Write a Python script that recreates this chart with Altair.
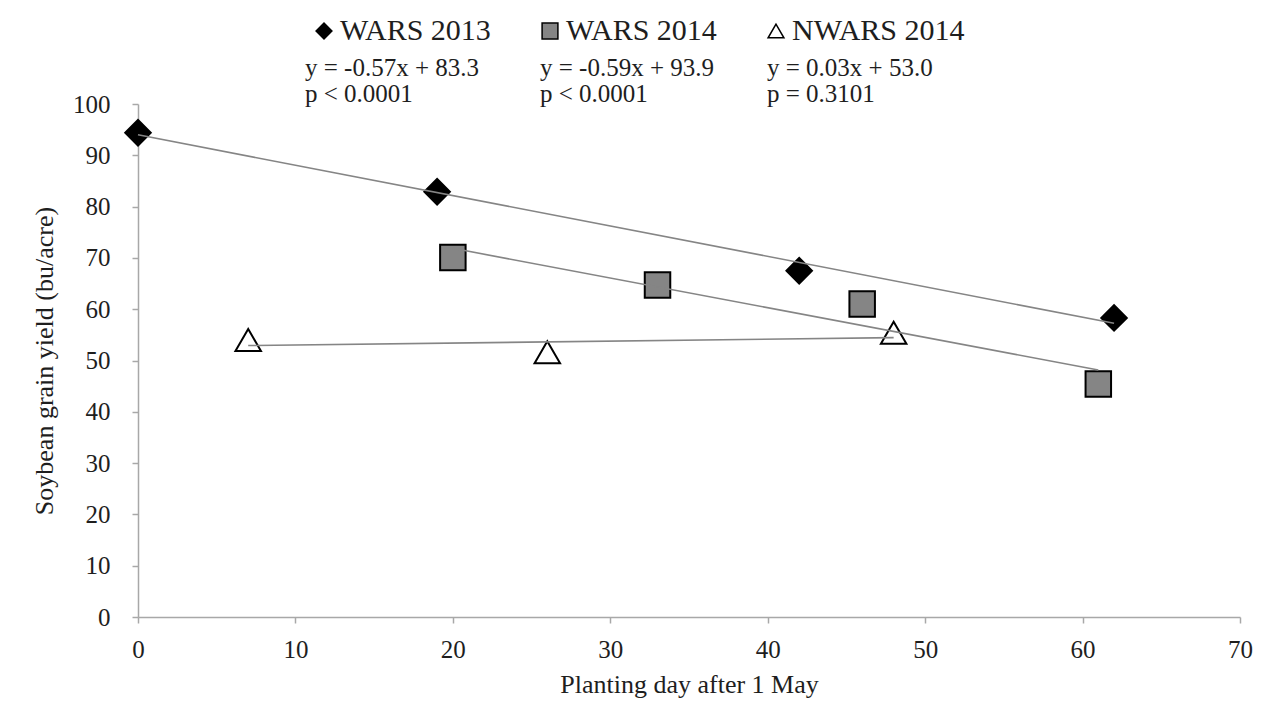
import altair as alt
import pandas as pd

# ---- data ----
series_names = ["WARS 2013", "WARS 2014", "NWARS 2014"]

wars2013_day = [0, 19, 42, 62]
wars2013_yield = [94.4, 82.9, 67.5, 58.3]

wars2014_day = [20, 33, 46, 61]
wars2014_yield = [70.1, 64.7, 61.0, 45.4]

nwars2014_day = [7, 26, 48]
nwars2014_yield = [54.0, 51.6, 55.4]

x_ticks = [0, 10, 20, 30, 40, 50, 60, 70]
y_ticks = [0, 10, 20, 30, 40, 50, 60, 70, 80, 90, 100]

equations = ["y = -0.57x + 83.3", "y = -0.59x + 93.9", "y = 0.03x + 53.0"]
pvalues = ["p < 0.0001", "p < 0.0001", "p = 0.3101"]

# ---- layout constants (pixels, relative to plot area) ----
eq_x_px = [167, 402, 629]
eq_line1_y = -28
eq_line2_y = -2

FONT = "Liberation Serif"
TEXT_COLOR = "#1e1e1e"
AXIS_COLOR = "#a8a8a8"

pts = pd.DataFrame({
    "day": wars2013_day + wars2014_day + nwars2014_day,
    "yield": wars2013_yield + wars2014_yield + nwars2014_yield,
    "series": [series_names[0]] * len(wars2013_day)
    + [series_names[1]] * len(wars2014_day)
    + [series_names[2]] * len(nwars2014_day),
})

x_scale = alt.Scale(domain=[0, 70], nice=False)
y_scale = alt.Scale(domain=[0, 100], nice=False)

x_axis = alt.Axis(
    values=x_ticks, grid=False, domainColor=AXIS_COLOR, domainWidth=1.5,
    tickColor=AXIS_COLOR, tickWidth=1.5, tickSize=6,
    labelFont=FONT, labelFontSize=25, labelColor=TEXT_COLOR, labelPadding=14,
    labelFlush=False, labelOverlap=False,
    titleFont=FONT, titleFontSize=26, titleFontWeight="normal", titleColor=TEXT_COLOR,
    titleY=75, titleBaseline="alphabetic",
)
y_axis = alt.Axis(
    values=y_ticks, grid=False, domainColor=AXIS_COLOR, domainWidth=1.5,
    tickColor=AXIS_COLOR, tickWidth=1.5, tickSize=6,
    labelFont=FONT, labelFontSize=25, labelColor=TEXT_COLOR, labelPadding=22,
    labelFlush=False, labelOverlap=False,
    titleFont=FONT, titleFontSize=26, titleFontWeight="normal", titleColor=TEXT_COLOR,
    titleX=-86, titleBaseline="alphabetic",
)

legend = alt.Legend(
    title=None, orient="none", legendX=171, legendY=-88, direction="horizontal",
    columns=3, columnPadding=44, padding=0,
    labelFont=FONT, labelFontSize=30, labelColor=TEXT_COLOR, labelOffset=1,
    labelLimit=0,
    symbolSize=250, symbolStrokeWidth=1.5, symbolOpacity=1,
)

base = alt.Chart(pts)

points = base.mark_point(
    filled=True, size=650, strokeWidth=2, opacity=1
).encode(
    x=alt.X("day:Q", scale=x_scale, axis=x_axis, title="Planting day after 1 May"),
    y=alt.Y("yield:Q", scale=y_scale, axis=y_axis, title="Soybean grain yield (bu/acre)"),
    shape=alt.Shape("series:N", scale=alt.Scale(domain=series_names,
                    range=["diamond", "square", "triangle-up"]), legend=legend),
    fill=alt.Fill("series:N", scale=alt.Scale(domain=series_names,
                  range=["#000000", "#858585", "#ffffff"]), legend=legend),
    stroke=alt.Stroke("series:N", scale=alt.Scale(domain=series_names,
                      range=["#000000", "#000000", "#000000"]), legend=legend),
)

lines = base.transform_regression(
    "day", "yield", groupby=["series"]
).mark_line(color="#858585", strokeWidth=1.6).encode(
    x=alt.X("day:Q", scale=x_scale),
    y=alt.Y("yield:Q", scale=y_scale),
    detail="series:N",
)

text_layers = []
for eq, pv, px in zip(equations, pvalues, eq_x_px):
    for txt, ty in ((eq, eq_line1_y), (pv, eq_line2_y)):
        text_layers.append(
            alt.Chart(pd.DataFrame({"t": [txt]})).mark_text(
                align="left", baseline="alphabetic", font=FONT, fontSize=25,
                color=TEXT_COLOR,
            ).encode(x=alt.value(px), y=alt.value(ty), text="t:N")
        )

chart = alt.layer(points, lines, *text_layers).properties(
    width=1102, height=513,
    autosize=alt.AutoSizeParams(type="none"),
    padding={"left": 130, "top": 96, "right": 32, "bottom": 95},
    background="white",
).configure_view(stroke=None)

chart.save("out.html", embed_options={"renderer": "svg", "actions": False})
